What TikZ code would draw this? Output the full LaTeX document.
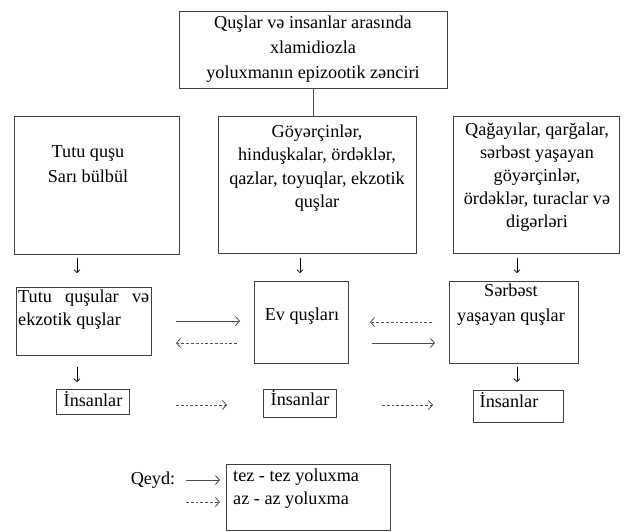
\documentclass[tikz,border=0pt]{standalone}
\usepackage{fontspec}
\setmainfont{Liberation Serif}
\usetikzlibrary{arrows.meta}
\begin{document}
\begin{tikzpicture}[x=1pt,y=-1pt,
  box/.style={draw=black!75, line width=0.8pt, inner sep=0pt},
  txt/.style={font=\fontsize{18.2}{23.5}\selectfont, align=center, inner sep=0pt, anchor=base},
  wide/.style={font=\fontsize{18.2}{25}\selectfont},
  tight/.style={font=\fontsize{18.2}{23}\selectfont},
  sol/.style={draw=black!70, line width=0.8pt, -{Straight Barb[length=4pt,width=9pt]}},
  dsh/.style={sol, dash pattern=on 2.8pt off 2pt},
  dar/.style={draw=black, line width=0.7pt, -{Straight Barb[length=3pt,width=6pt]}}]
\fill[white] (0,0) rectangle (626,531);
\useasboundingbox (0,0) rectangle (626,531);

% boxes
\node[box, minimum width=268pt, minimum height=77pt] (top) at (313,49.5) {};
\node[box, minimum width=165pt, minimum height=138pt] (b1) at (96.5,185) {};
\node[box, minimum width=198pt, minimum height=137pt] (b2) at (317,184.5) {};
\node[box, minimum width=166pt, minimum height=137pt] (b3) at (536,184.5) {};
\node[box, minimum width=135pt, minimum height=68pt] (c1) at (83.5,321) {};
\node[box, minimum width=94pt, minimum height=82pt] (c2) at (301,322) {};
\node[box, minimum width=129pt, minimum height=82pt] (c3) at (513.5,322) {};
\node[box, minimum width=73pt, minimum height=25pt] (i1) at (92.5,401.5) {};
\node[box, minimum width=73pt, minimum height=28pt] (i2) at (299.5,403) {};
\node[box, minimum width=90pt, minimum height=32pt] (i3) at (518,406) {};
\node[box, minimum width=164pt, minimum height=66pt] (leg) at (308,497) {};

% texts (anchor base = baseline of the last line)
\node[txt, wide] (t0) at (313,78) {Quşlar və insanlar arasında\\xlamidiozla\\yoluxmanın epizootik zənciri};
\node[txt, wide] (t1) at (88,182) {Tutu quşu\\Sarı bülbül};
\node[txt] (t2) at (317,207.5) {Göyərçinlər,\\hinduşkalar, ördəklər,\\qazlar, toyuqlar, ekzotik\\quşlar};
\node[txt, tight] (t3) at (537,227) {Qağayılar, qarğalar,\\sərbəst yaşayan\\göyərçinlər,\\ördəklər, turaclar və\\digərləri};
\node[txt, tight, anchor=base west, text width=131pt, align=justify] (tc1) at (18,302) {Tutu\hfill quşular\hfill və\\ekzotik quşlar};
\node[txt] (tc2) at (302,320) {Ev quşları};
\node[txt, wide] (tc3) at (511,321) {Sərbəst\\yaşayan quşlar};
\node[txt] (ti1) at (93,406) {İnsanlar};
\node[txt] (ti2) at (300,405) {İnsanlar};
\node[txt] (ti3) at (509,407) {İnsanlar};
\node[txt] (q) at (153,484) {Qeyd:};
\node[txt, anchor=base west] (l1) at (233,481) {tez - tez yoluxma};
\node[txt, anchor=base west] (l2) at (233,504) {az - az yoluxma};

% connector top -> middle box
\draw[draw=black!70, line width=0.8pt] (top.south) -- (top.south |- b2.north);

% down arrows
\coordinate (d1a) at (77,258); \coordinate (d1b) at (77,273);
\coordinate (d2a) at (300,258); \coordinate (d2b) at (300,273);
\coordinate (d3a) at (517,258); \coordinate (d3b) at (517,273);
\coordinate (d4a) at (77,367); \coordinate (d4b) at (77,382);
\coordinate (d5a) at (517,367); \coordinate (d5b) at (517,382);
\draw[dar] (d1a) -- (d1b);
\draw[dar] (d2a) -- (d2b);
\draw[dar] (d3a) -- (d3b);
\draw[dar] (d4a) -- (d4b);
\draw[dar] (d5a) -- (d5b);

% horizontal arrows
\coordinate (h1a) at (176,321); \coordinate (h1b) at (240,321);
\coordinate (h2a) at (237,343); \coordinate (h2b) at (176,343);
\coordinate (h3a) at (432,322); \coordinate (h3b) at (370,322);
\coordinate (h4a) at (372,343); \coordinate (h4b) at (435,343);
\coordinate (h5a) at (176,405); \coordinate (h5b) at (227,405);
\coordinate (h6a) at (382,405); \coordinate (h6b) at (433,405);
\draw[sol] (h1a) -- (h1b);
\draw[dsh] (h2a) -- (h2b);
\draw[dsh] (h3a) -- (h3b);
\draw[sol] (h4a) -- (h4b);
\draw[dsh] (h5a) -- (h5b);
\draw[dsh] (h6a) -- (h6b);

% legend arrows
\coordinate (la) at (186,480); \coordinate (lb) at (220,480);
\coordinate (lc) at (186,502); \coordinate (ld) at (220,502);
\draw[sol] (la) -- (lb);
\draw[dsh] (lc) -- (ld);
\end{tikzpicture}
\end{document}
